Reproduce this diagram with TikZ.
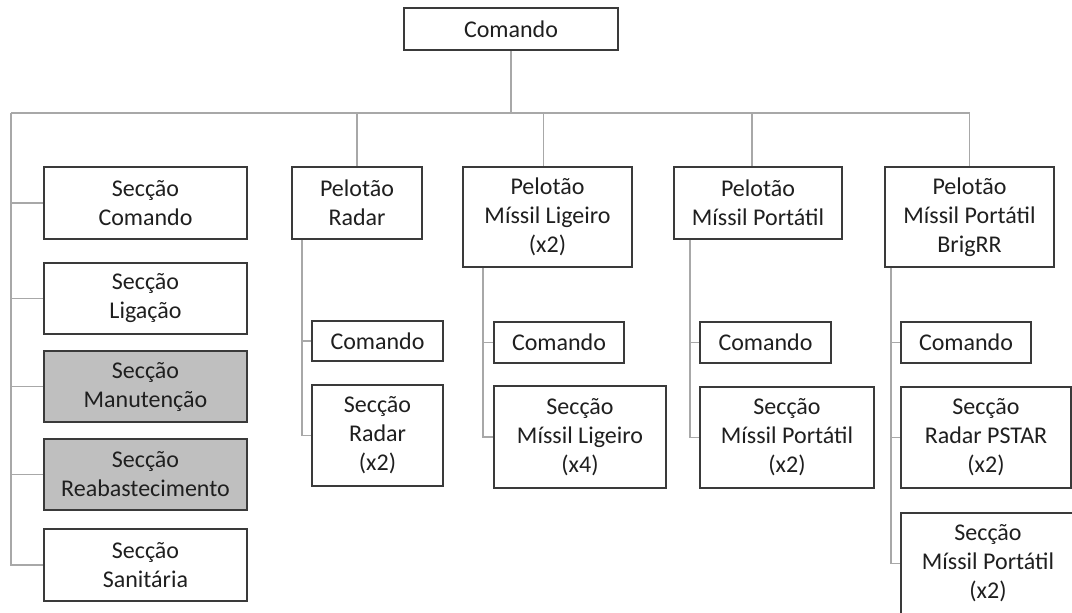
\documentclass[tikz,border=0pt]{standalone}
\usepackage{fontspec}
\setmainfont{Carlito}
\definecolor{boxline}{HTML}{3A3A3A}
\definecolor{linkgray}{HTML}{A8A8A8}
\definecolor{supportfill}{HTML}{BFBFBF}
\definecolor{ink}{HTML}{1F1F1F}
\begin{document}
\begin{tikzpicture}[x=1pt,y=-1pt,
  unit/.style={draw=boxline, line width=2pt, fill=white, text=ink, align=center,
    inner sep=0pt, font=\fontsize{24}{29}\selectfont},
  support/.style={unit, fill=supportfill},
  link/.style={draw=linkgray, line width=1.8pt}]
\useasboundingbox (0,0) rectangle (1072,613);
\clip (0,0) rectangle (1072,613);

% headquarters
\node[unit, minimum width=214pt, minimum height=42pt] (top) at (511,29) {Comando};

% left column: sections under direct command
\node[unit,    minimum width=203pt, minimum height=72pt] (l1) at (145.5,203)   {Secção\\Comando};
\node[unit,    minimum width=203pt, minimum height=71pt] (l2) at (145.5,298.5) {Secção\\Ligação};
\node[support, minimum width=203pt, minimum height=71pt] (l3) at (145.5,386.5) {Secção\\Manutenção};
\node[support, minimum width=203pt, minimum height=71pt] (l4) at (145.5,474.5) {Secção\\Reabastecimento};
\node[unit,    minimum width=203pt, minimum height=72pt] (l5) at (145.5,565)   {Secção\\Sanitária};

% platoons
\node[unit, minimum width=130pt, minimum height=72pt]  (p1) at (357,203)   {Pelotão\\Radar};
\node[unit, minimum width=169pt, minimum height=100pt] (p2) at (547.5,217) {Pelotão\\Míssil Ligeiro\\(x2)};
\node[unit, minimum width=168pt, minimum height=72pt]  (p3) at (758,203)   {Pelotão\\Míssil Portátil};
\node[unit, minimum width=169pt, minimum height=100pt] (p4) at (969.5,217) {Pelotão\\Míssil Portátil\\BrigRR};

% radar platoon
\node[unit, minimum width=131pt, minimum height=40pt]  (r1) at (377.5,341)   {Comando};
\node[unit, minimum width=131pt, minimum height=101pt] (r2) at (377.5,435.5) {Secção\\Radar\\(x2)};

% light missile platoon
\node[unit, minimum width=130pt, minimum height=41pt]  (m1) at (559,342.5) {Comando};
\node[unit, minimum width=172pt, minimum height=102pt] (m2) at (580,437)   {Secção\\Míssil Ligeiro\\(x4)};

% portable missile platoon
\node[unit, minimum width=131pt, minimum height=41pt]  (n1) at (765.5,342.5) {Comando};
\node[unit, minimum width=174pt, minimum height=101pt] (n2) at (787,437.5)   {Secção\\Míssil Portátil\\(x2)};

% BrigRR portable missile platoon
\node[unit, minimum width=130pt, minimum height=41pt]  (b1) at (966,342.5) {Comando};
\node[unit, minimum width=170pt, minimum height=101pt] (b2) at (986,437.5) {Secção\\Radar PSTAR\\(x2)};
\node[unit, minimum width=174pt, minimum height=101pt] (b3) at (988,563.5) {Secção\\Míssil Portátil\\(x2)};

% main bus
\coordinate (busL) at (11,113);
\draw[link] (top.south) -- (top.south |- busL);
\draw[link] (busL) -- (p4.north |- busL) -- (p4.north);
\draw[link] (p1.north |- busL) -- (p1.north);
\draw[link] ([xshift=-4pt]p2.north |- busL) -- ([xshift=-4pt]p2.north);
\draw[link] ([xshift=-6pt]p3.north |- busL) -- ([xshift=-6pt]p3.north);

% left column spine
\draw[link] (busL) -- (busL |- l5.west) -- (l5.west);
\foreach \s in {l1,l2,l3,l4} \draw[link] (busL |- \s.west) -- (\s.west);

% platoon spines
\coordinate (sr) at ([xshift=11pt]p1.south west);
\draw[link] (sr) -- (sr |- r2.west) -- (r2.west);
\draw[link] (sr |- r1.west) -- (r1.west);

\coordinate (sm) at ([xshift=21pt]p2.south west);
\draw[link] (sm) -- (sm |- m2.west) -- (m2.west);
\draw[link] (sm |- m1.west) -- (m1.west);

\coordinate (sn) at ([xshift=17pt]p3.south west);
\draw[link] (sn) -- (sn |- n2.west) -- (n2.west);
\draw[link] (sn |- n1.west) -- (n1.west);

\coordinate (sb) at ([xshift=7pt]p4.south west);
\draw[link] (sb) -- (sb |- b3.west) -- (b3.west);
\draw[link] (sb |- b1.west) -- (b1.west);
\draw[link] (sb |- b2.west) -- (b2.west);
\end{tikzpicture}
\end{document}
